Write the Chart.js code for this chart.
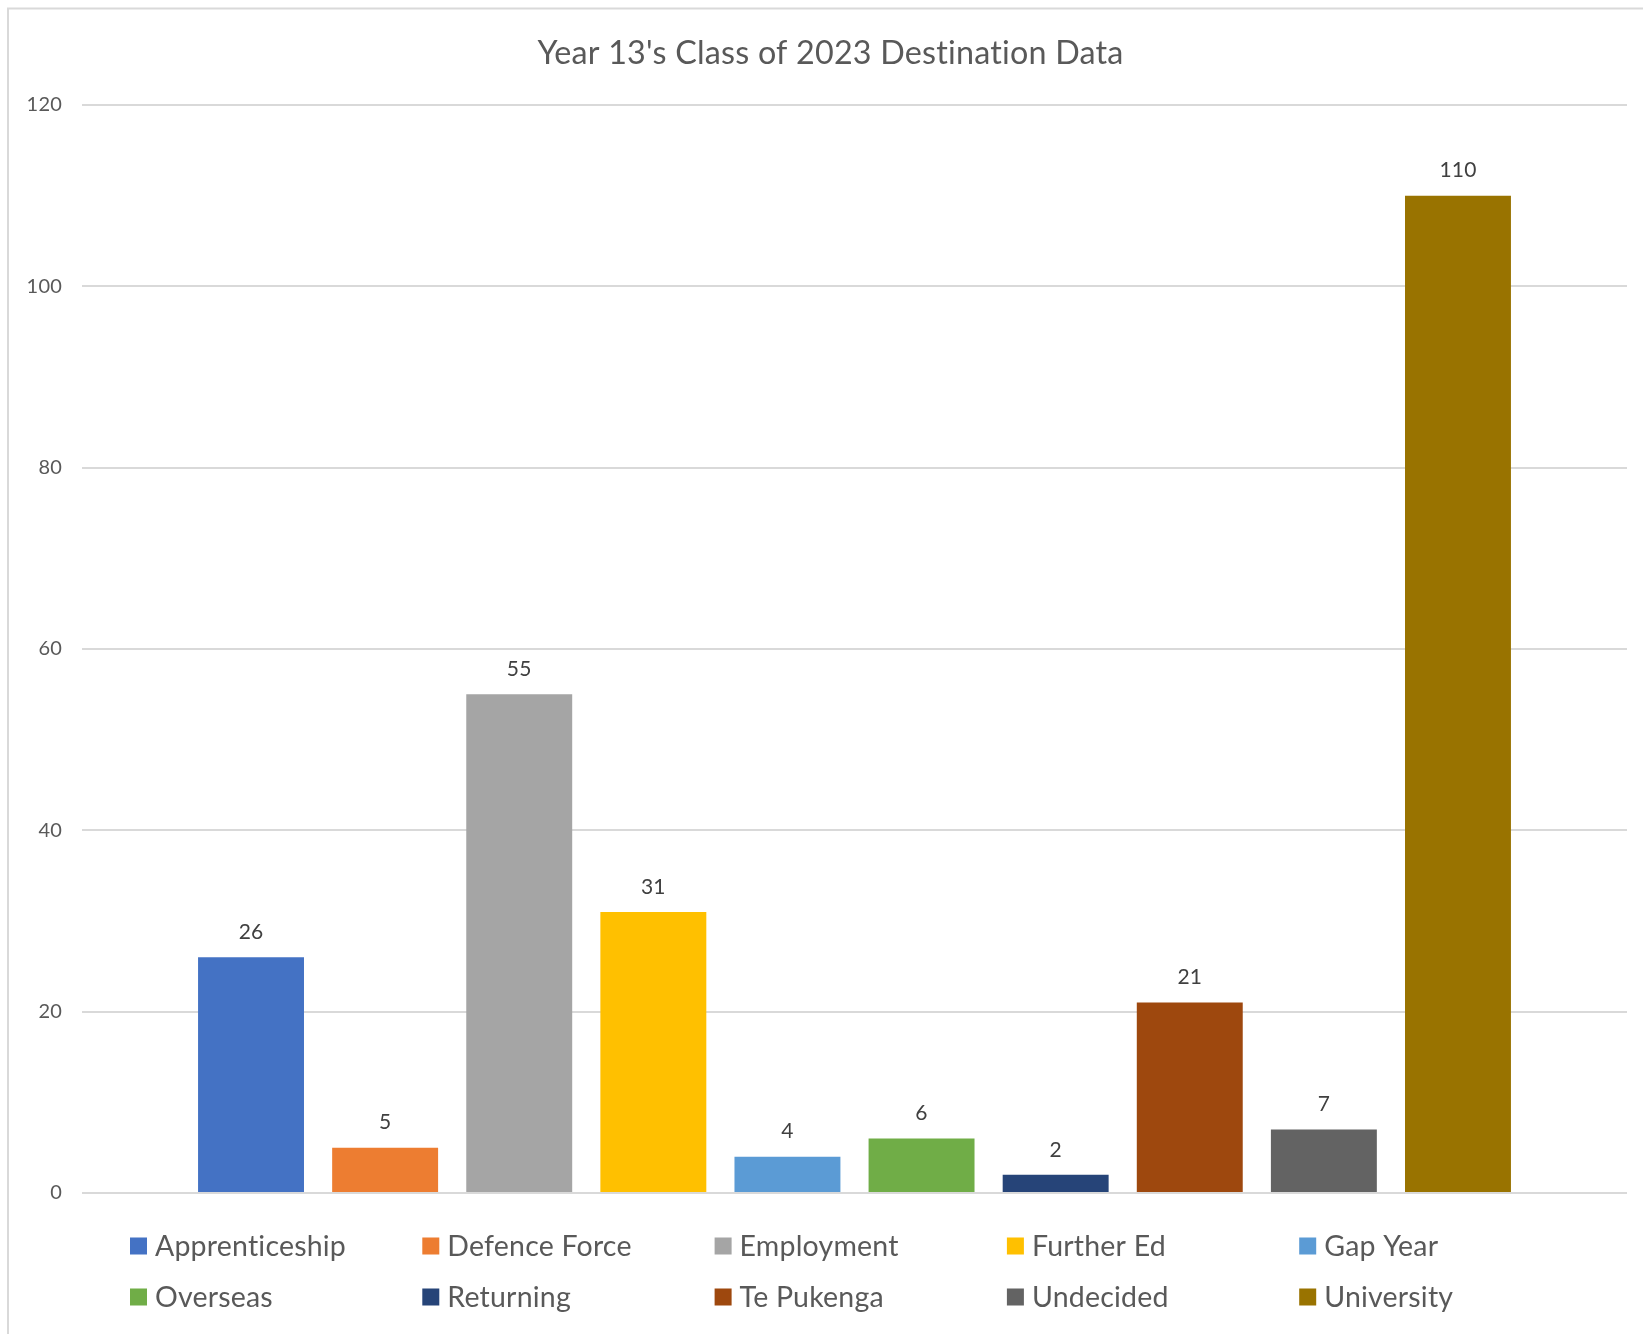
<!DOCTYPE html>
<html>
<head>
<meta charset="utf-8">
<script src="https://cdn.jsdelivr.net/npm/chart.js@4/dist/chart.umd.min.js"></script>
<style>
  html, body { margin: 0; padding: 0; background: #ffffff; }
  #wrap { width: 1643px; height: 1334px; }
</style>
</head>
<body>
<div id="wrap"><canvas id="chart" width="1643" height="1334"></canvas></div>
<script>
// Destination counts for the Year 13 class of 2023
const chartTitle = "Year 13's Class of 2023 Destination Data";
const destinations = ['Apprenticeship', 'Defence Force', 'Employment', 'Further Ed', 'Gap Year',
                      'Overseas', 'Returning', 'Te Pukenga', 'Undecided', 'University'];
const studentCounts = [26, 5, 55, 31, 4, 6, 2, 21, 7, 110];
const seriesColors = ['#4472C4', '#ED7D31', '#A5A5A5', '#FFC000', '#5B9BD5',
                      '#70AD47', '#264478', '#9E480E', '#636363', '#997300'];
const yTicks = [0, 20, 40, 60, 80, 100, 120];

const FONT = 'Lato, "Open Sans", sans-serif';
const TEXT_COLOR = '#595959';
const GRID_COLOR = '#D9D9D9';

// The chart frame starts 8px in and runs past the right/bottom edges
const FRAME_INSET = 8;
const FRAME_OVERHANG = 10;

// Light frame around the whole chart
const framePlugin = {
  id: 'frame',
  beforeDraw(chart) {
    const ctx = chart.ctx;
    // a tiny letter spacing keeps glyphs unligatured (e.g. "ti")
    ctx.letterSpacing = '0.2px';
    ctx.save();
    ctx.fillStyle = '#ffffff';
    ctx.fillRect(0, 0, chart.width, chart.height);
    ctx.strokeStyle = GRID_COLOR;
    ctx.lineWidth = 2;
    ctx.strokeRect(FRAME_INSET, FRAME_INSET + 0.5, chart.width + 20, chart.height + 20);
    ctx.restore();
  }
};

// Title centred over the full frame width
const frameTitlePlugin = {
  id: 'frameTitle',
  afterDraw(chart, args, opts) {
    const ctx = chart.ctx;
    ctx.save();
    ctx.font = opts.size + 'px ' + FONT;
    ctx.fillStyle = TEXT_COLOR;
    ctx.textAlign = 'center';
    ctx.textBaseline = 'middle';
    const cx = (FRAME_INSET + chart.width + FRAME_OVERHANG) / 2;
    ctx.fillText(opts.text, cx, opts.y);
    ctx.restore();
  }
};

// Value labels above each bar
const valueLabelPlugin = {
  id: 'valueLabels',
  afterDatasetsDraw(chart) {
    const ctx = chart.ctx;
    ctx.save();
    ctx.font = '21px ' + FONT;
    ctx.fillStyle = '#404040';
    ctx.textAlign = 'center';
    ctx.textBaseline = 'middle';
    chart.data.datasets.forEach((ds, i) => {
      const meta = chart.getDatasetMeta(i);
      meta.data.forEach((bar, j) => {
        ctx.fillText(String(ds.data[j]), bar.x, bar.y - 25);
      });
    });
    ctx.restore();
  }
};

// Legend laid out in a fixed grid of five columns
const gridLegendPlugin = {
  id: 'gridLegend',
  afterDraw(chart, args, opts) {
    const ctx = chart.ctx;
    ctx.save();
    ctx.font = opts.fontSize + 'px ' + FONT;
    ctx.textBaseline = 'middle';
    ctx.textAlign = 'left';
    chart.data.datasets.forEach((ds, i) => {
      const col = i % opts.columns;
      const row = Math.floor(i / opts.columns);
      const x = opts.left + col * opts.colStep;
      const y = opts.rowY[row];
      ctx.fillStyle = ds.backgroundColor;
      ctx.fillRect(x, y - opts.box / 2, opts.box, opts.box);
      ctx.fillStyle = TEXT_COLOR;
      ctx.fillText(ds.label, x + opts.textGap, y + 1);
    });
    ctx.restore();
  }
};

const datasets = destinations.map((name, i) => ({
  label: name,
  data: [studentCounts[i]],
  backgroundColor: seriesColors[i],
  borderWidth: 0,
  categoryPercentage: 0.868,
  barPercentage: 0.79
}));

new Chart(document.getElementById('chart'), {
  type: 'bar',
  data: { labels: [''], datasets },
  plugins: [framePlugin, valueLabelPlugin, gridLegendPlugin, frameTitlePlugin],
  options: {
    responsive: false,
    animation: false,
    layout: { padding: { left: 0, right: 16, top: 105, bottom: 141 } },
    scales: {
      x: { display: false },
      y: {
        min: 0,
        max: 120,
        afterBuildTicks(scale) { scale.ticks = yTicks.map(v => ({ value: v })); },
        afterFit(scale) { scale.width = 82; },
        ticks: { color: TEXT_COLOR, font: { family: FONT, size: 20 }, padding: 20 },
        grid: { color: GRID_COLOR, lineWidth: 2, drawTicks: false },
        border: { display: false }
      }
    },
    plugins: {
      legend: { display: false },
      title: { display: false },
      tooltip: { enabled: false },
      frameTitle: { text: chartTitle, size: 32.3, y: 53.4 },
      gridLegend: {
        columns: 5, left: 130, colStep: 292.3, rowY: [1246, 1297],
        box: 17, textGap: 25, fontSize: 28.5
      }
    }
  }
});
</script>
</body>
</html>
